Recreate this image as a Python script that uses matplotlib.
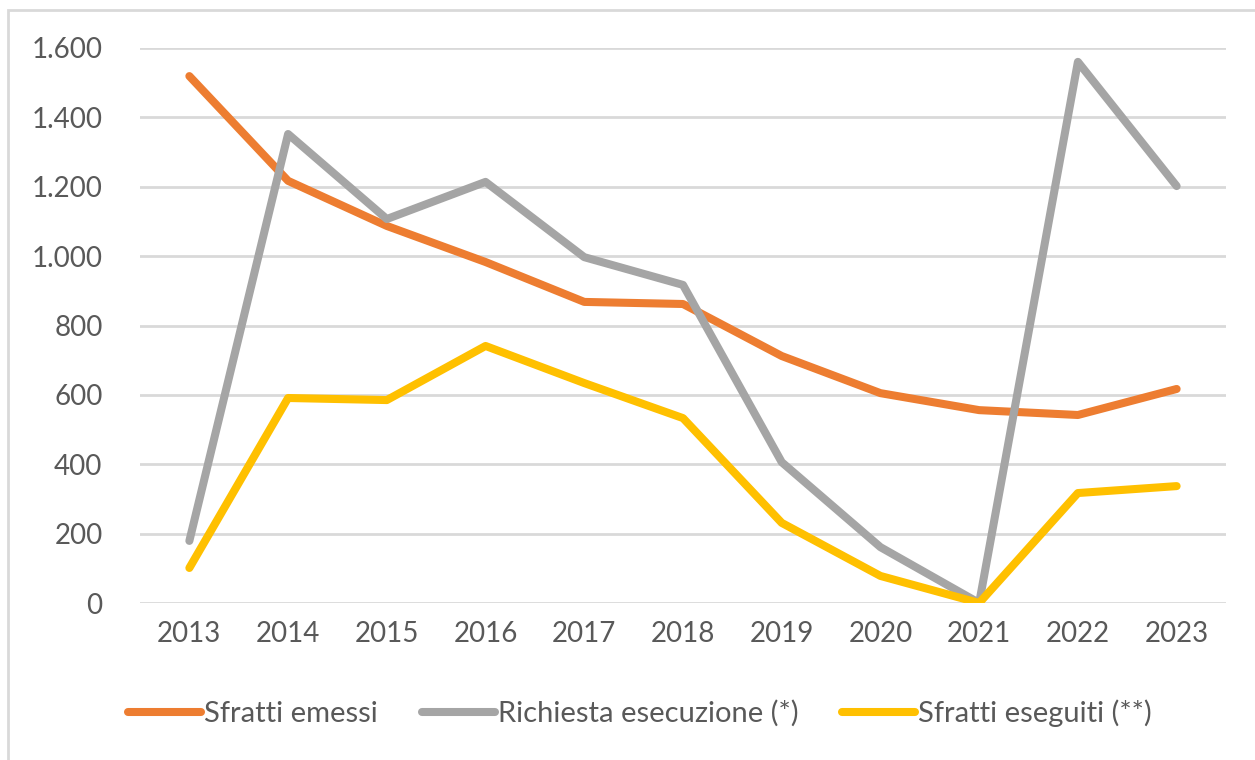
import matplotlib.pyplot as plt
from matplotlib.patches import Rectangle
from matplotlib.ticker import FuncFormatter

years = [2013, 2014, 2015, 2016, 2017, 2018, 2019, 2020, 2021, 2022, 2023]
emessi = [1519, 1217, 1087, 983, 868, 862, 712, 605, 556, 542, 617]
richiesta = [179, 1352, 1107, 1214, 997, 917, 406, 161, 0, 1560, 1202]
eseguiti = [101, 591, 585, 741, 634, 533, 231, 78, 0, 317, 337]

plt.rcParams['font.family'] = ['Lato', 'DejaVu Sans']
text_col = '#595959'

fig = plt.figure(figsize=(12.55, 7.6), dpi=100)
ax = fig.add_axes([140 / 1255, 1 - 603 / 760, 1086 / 1255, 555 / 760])

# outer border of the chart area (cut off at right/bottom)
fig.patches.append(Rectangle((8 / 1255, -0.1), 1.2, 1.1 - 10 / 760,
                             transform=fig.transFigure, fill=False,
                             edgecolor='#d9d9d9', linewidth=2))

x = range(len(years))
ax.plot(x, emessi, color='#ed7d31', lw=5.8, solid_capstyle='round',
        solid_joinstyle='round', label='Sfratti emessi')
ax.plot(x, richiesta, color='#a5a5a5', lw=5.8, solid_capstyle='round',
        solid_joinstyle='round', label='Richiesta esecuzione (*)')
ax.plot(x, eseguiti, color='#ffc000', lw=5.8, solid_capstyle='round',
        solid_joinstyle='round', label='Sfratti eseguiti (**)')

ax.set_xlim(-0.5, len(years) - 0.5)
ax.set_ylim(0, 1600)
ax.set_yticks(range(0, 1601, 200))
ax.yaxis.set_major_formatter(FuncFormatter(lambda v, p: f'{int(v):,}'.replace(',', '.')))
ax.set_xticks(list(x))
ax.set_xticklabels([str(y) for y in years])
ax.grid(axis='y', color='#d9d9d9', lw=2)
ax.set_axisbelow(True)
for s in ax.spines.values():
    s.set_visible(False)
ax.tick_params(axis='x', length=0, labelsize=20, colors=text_col, pad=13)
ax.tick_params(axis='y', length=0, labelsize=20, colors=text_col, pad=27)

leg = fig.legend(loc='center', bbox_to_anchor=(640 / 1255, 1 - 713 / 760), ncol=3,
                 frameon=False, fontsize=21, handlelength=2.5, handletextpad=0.1,
                 columnspacing=1.5, labelcolor=text_col)

fig.savefig('out.png', dpi=100)
